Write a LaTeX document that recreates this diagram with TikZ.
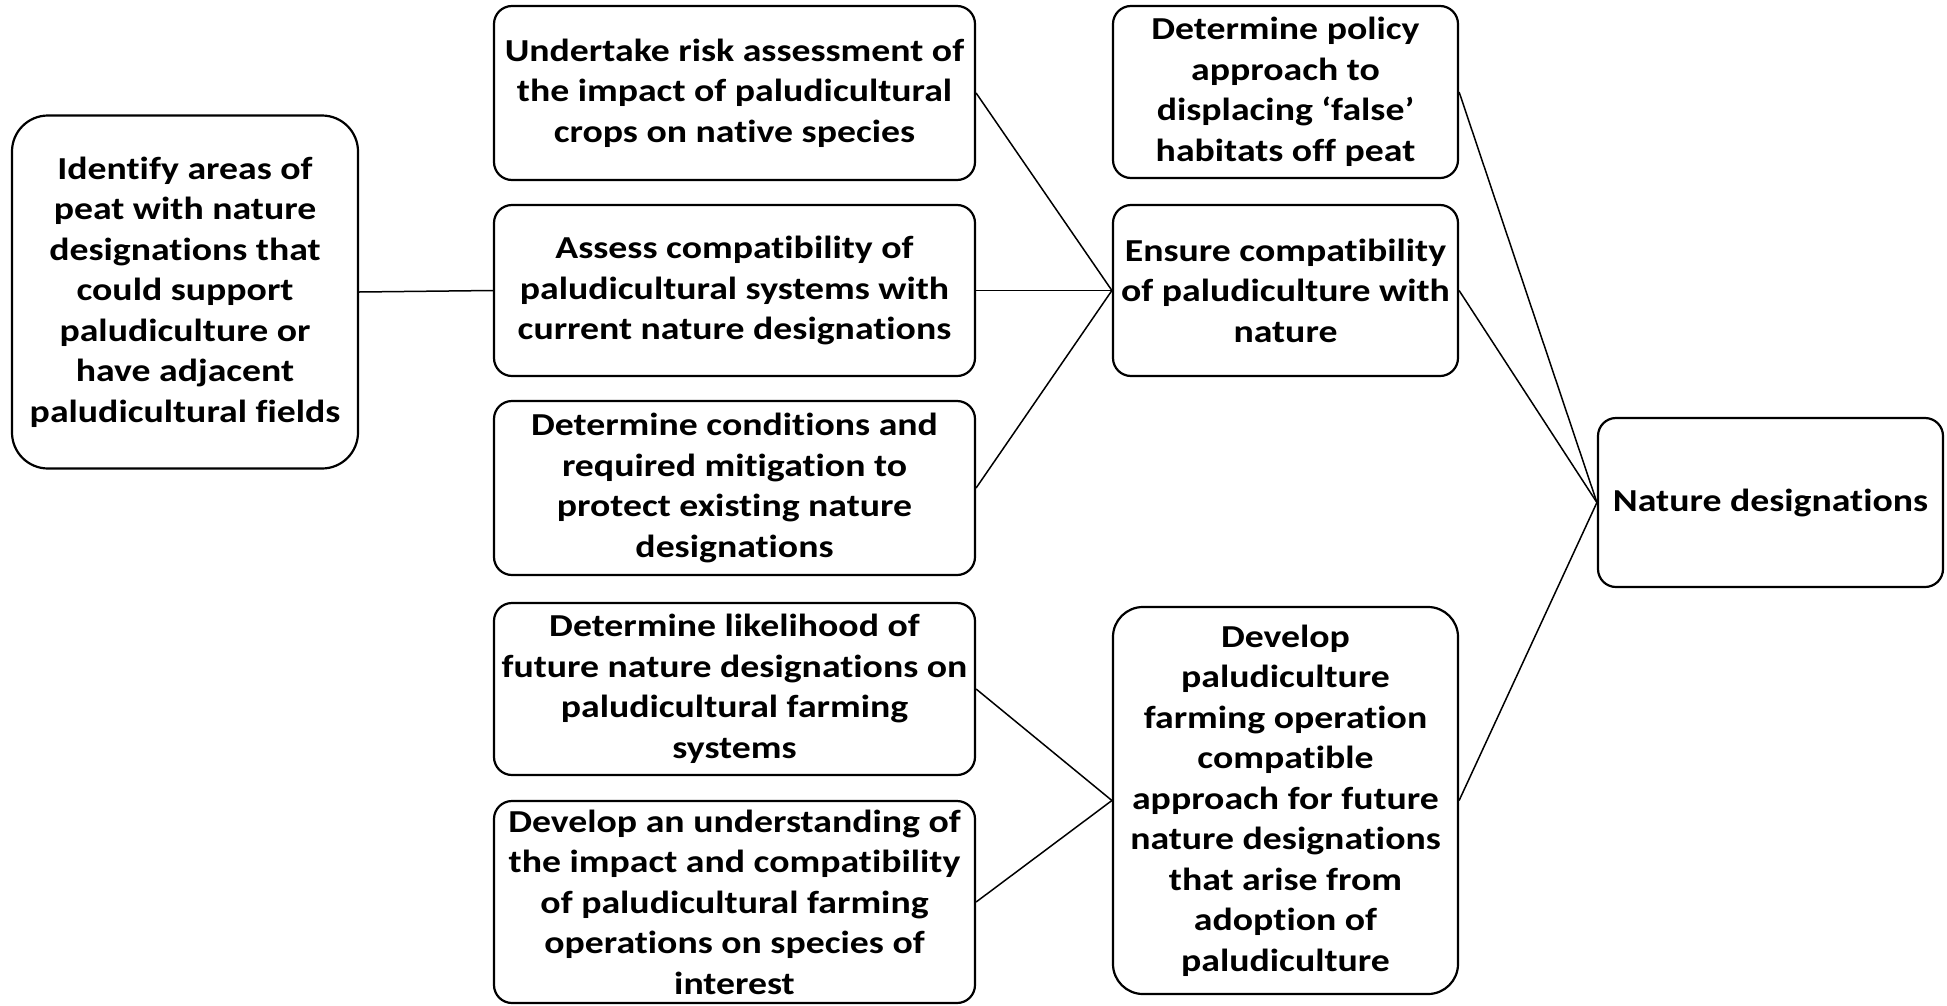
\documentclass[tikz,border=0pt]{standalone}
\usepackage{fontspec}
\setmainfont{Carlito}[FakeStretch=1.18,Ligatures=NoCommon]
\begin{document}
\begin{tikzpicture}[x=1bp,y=-1bp,line join=bevel,
  box/.style={draw,line width=2.2bp,rounded corners=18bp,fill=white,align=center,inner sep=0pt,
    font=\bfseries\fontsize{32bp}{40.5bp}\selectfont},
  link/.style={line width=1.5bp}]
  \useasboundingbox (0,0) rectangle (1947,1005);
%%
  % Node: Identify
  \node[box,minimum width=346bp,minimum height=353bp,rounded corners=36bp] (Identify) at (185,292)
    {Identify areas of\\peat with nature\\designations that\\could support\\paludiculture or\\have adjacent\\paludicultural fields};
  % Node: Undertake
  \node[box,minimum width=481bp,minimum height=174bp] (Undertake) at (734.5,93)
    {Undertake risk assessment of\\the impact of paludicultural\\crops on native species};
  % Node: Assess
  \node[box,minimum width=481bp,minimum height=171bp] (Assess) at (734.5,290.5)
    {Assess compatibility of\\paludicultural systems with\\current nature designations};
  % Node: Conditions
  \node[box,minimum width=481bp,minimum height=174bp] (Conditions) at (734.5,488)
    {Determine conditions and\\required mitigation to\\protect existing nature\\designations};
  % Node: Likelihood
  \node[box,minimum width=481bp,minimum height=172bp] (Likelihood) at (734.5,689)
    {Determine likelihood of\\future nature designations on\\paludicultural farming\\systems};
  % Node: Understanding
  \node[box,minimum width=481bp,minimum height=202bp] (Understanding) at (734.5,902)
    {Develop an understanding of\\the impact and compatibility\\of paludicultural farming\\operations on species of\\interest};
  % Node: Policy
  \node[box,minimum width=345bp,minimum height=172bp] (Policy) at (1285.5,92)
    {Determine policy\\approach to\\displacing ‘false’\\habitats off peat};
  % Node: Ensure
  \node[box,minimum width=345bp,minimum height=171bp] (Ensure) at (1285.5,290.5)
    {Ensure compatibility\\of paludiculture with\\nature};
  % Node: Develop
  \node[box,minimum width=345bp,minimum height=387bp,rounded corners=30bp] (Develop) at (1285.5,800.5)
    {Develop\\paludiculture\\farming operation\\compatible\\approach for future\\nature designations\\that arise from\\adoption of\\paludiculture};
  % Node: Nature
  \node[box,minimum width=345bp,minimum height=169bp] (Nature) at (1770.5,502.5)
    {Nature designations};
%%
  % Edge: Identify -> Assess
  \draw[link] (Identify.east) -- (Assess.west);
  % Edge: Undertake -> Ensure
  \draw[link] (Undertake.east) -- (Ensure.west);
  % Edge: Assess -> Ensure
  \draw[link] (Assess.east) -- (Ensure.west);
  % Edge: Conditions -> Ensure
  \draw[link] (Conditions.east) -- (Ensure.west);
  % Edge: Likelihood -> Develop
  \draw[link] (Likelihood.east) -- (Develop.west);
  % Edge: Understanding -> Develop
  \draw[link] (Understanding.east) -- (Develop.west);
  % Edge: Policy -> Nature
  \draw[link] (Policy.east) -- (Nature.west);
  % Edge: Ensure -> Nature
  \draw[link] (Ensure.east) -- (Nature.west);
  % Edge: Develop -> Nature
  \draw[link] (Develop.east) -- (Nature.west);
%
\end{tikzpicture}
\end{document}
